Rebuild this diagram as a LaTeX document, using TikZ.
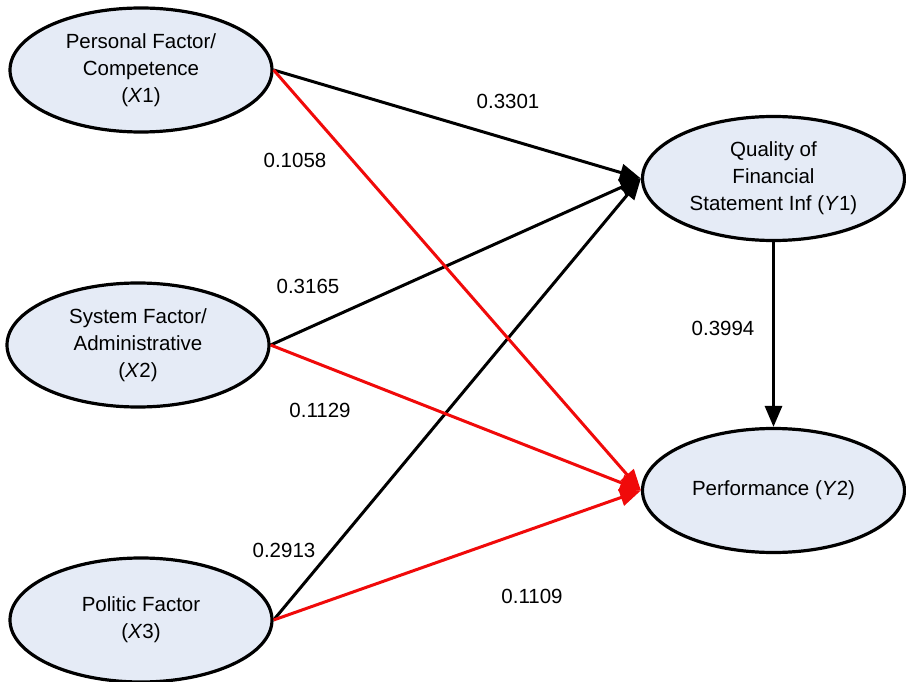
\documentclass[tikz,border=0pt]{standalone}
\usepackage{fontspec}
\setmainfont{Liberation Sans}
\usetikzlibrary{shapes.geometric,arrows.meta}
\definecolor{nodefill}{RGB}{229,235,246}
\definecolor{pathred}{RGB}{240,10,10}
\begin{document}
\begin{tikzpicture}[x=1pt,y=-1pt,
  latent/.style={ellipse,draw=black,line width=3.2pt,fill=nodefill,
    minimum width=262pt,minimum height=124pt,inner sep=0pt,align=center,
    font=\fontsize{20.5}{27}\selectfont},
  path/.style={line width=3pt,-{Triangle[length=21pt,width=17pt]}},
  blackpath/.style={path,draw=black},
  redpath/.style={path,draw=pathred},
  coef/.style={font=\fontsize{20.5}{24}\selectfont,inner sep=0pt}]
\useasboundingbox (0,0) rectangle (906,682);
\node[latent] (x1) at (141,70) {Personal Factor/\\Competence\\(\textit{X}1)};
\node[latent] (x2) at (138,345) {System Factor/\\Administrative\\(\textit{X}2)};
\node[latent] (x3) at (141,620) {Politic Factor\\(\textit{X}3)};
\node[latent] (y1) at (773.5,178.5) {Quality of\\Financial\\Statement Inf (\textit{Y}1)};
\node[latent] (y2) at (773.5,490.5) {Performance (\textit{Y}2)};
\draw[blackpath] (x1.east) -- (y1.west);
\draw[blackpath] (x2.east) -- (y1.west);
\draw[blackpath] (x3.east) -- (y1.west);
\draw[redpath] (x1.east) -- (y2.west);
\draw[redpath] (x2.east) -- (y2.west);
\draw[redpath] (x3.east) -- (y2.west);
\draw[blackpath] (y1.south) -- (y2.north);
\node[coef] (c1) at (508,101) {0.3301};
\node[coef] (c2) at (295,160) {0.1058};
\node[coef] (c3) at (308,286) {0.3165};
\node[coef] (c4) at (320,410) {0.1129};
\node[coef] (c5) at (284,550) {0.2913};
\node[coef] (c6) at (532,596) {0.1109};
\node[coef] (c7) at (723,328) {0.3994};
\end{tikzpicture}
\end{document}
